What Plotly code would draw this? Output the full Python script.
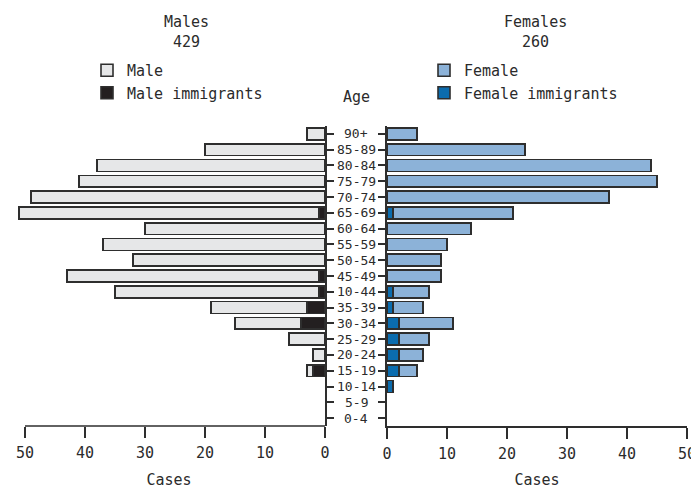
import plotly.graph_objects as go

ages = ["90+", "85-89", "80-84", "75-79", "70-74", "65-69", "60-64", "55-59",
        "50-54", "45-49", "10-44", "35-39", "30-34", "25-29", "20-24", "15-19",
        "10-14", "5-9", "0-4"]
male = [3, 20, 38, 41, 49, 50, 30, 37, 32, 42, 34, 16, 11, 6, 2, 1, 0, 0, 0]
male_immigrants = [0, 0, 0, 0, 0, 1, 0, 0, 0, 1, 1, 3, 4, 0, 0, 2, 0, 0, 0]
female = [5, 23, 44, 45, 37, 20, 14, 10, 9, 9, 6, 5, 9, 5, 4, 3, 0, 0, 0]
female_immigrants = [0, 0, 0, 0, 0, 1, 0, 0, 0, 0, 1, 1, 2, 2, 2, 2, 1, 0, 0]
x_ticks = [0, 10, 20, 30, 40, 50]
males_total = "429"
females_total = "260"

FONT = "DejaVu Sans Mono"
TXT = "#2b2b2b"
EDGE = "#2e2e2e"
C_MALE = "#e6e7e8"
C_MALE_IMM = "#231f20"
C_FEM = "#8cb2d8"
C_FEM_IMM = "#0b6cae"


def nz(vals):
    return [v if v else None for v in vals]


fig = go.Figure()
line = dict(color=EDGE, width=1.6)
fig.add_trace(go.Bar(y=ages, x=nz(male_immigrants), orientation="h", name="Male immigrants",
                     marker=dict(color=C_MALE_IMM, line=line), xaxis="x", yaxis="y",
                     legend="legend", legendrank=2))
fig.add_trace(go.Bar(y=ages, x=nz(male), orientation="h", name="Male",
                     marker=dict(color=C_MALE, line=line), xaxis="x", yaxis="y",
                     legend="legend", legendrank=1))
fig.add_trace(go.Bar(y=ages, x=nz(female_immigrants), orientation="h", name="Female immigrants",
                     marker=dict(color=C_FEM_IMM, line=line), xaxis="x2", yaxis="y2",
                     legend="legend2", legendrank=2))
fig.add_trace(go.Bar(y=ages, x=nz(female), orientation="h", name="Female",
                     marker=dict(color=C_FEM, line=line), xaxis="x2", yaxis="y2",
                     legend="legend2", legendrank=1))

# page body has an 8px margin: the figure is drawn 8px right/down of the window corner
OFF = 8
W, H = 699 - OFF, 489 - OFF
L, R, T, B = 13 - OFF, W - (687 - OFF), 126 - OFF, H - (426 - OFF)
pw = W - L - R
ph = H - T - B


def px(xp):
    return (xp - OFF - L) / pw


def py(yp):
    return (H - B - (yp - OFF)) / ph


axis_font = dict(family=FONT, size=15, color=TXT)
yrange = [len(ages) - 0.5, -0.5]

fig.update_layout(
    width=W, height=H,
    margin=dict(l=L, r=R, t=T, b=B, autoexpand=False),
    paper_bgcolor="white", plot_bgcolor="white",
    barmode="stack", bargap=0.25,
    font=dict(family=FONT, size=15, color=TXT),
    xaxis=dict(domain=[0, px(325)], range=[52, 0], tickvals=x_ticks, ticks="outside",
               ticklen=11, tickwidth=1.5, tickcolor=EDGE, showline=False, showgrid=False,
               zeroline=False, tickfont=axis_font, anchor="y", automargin=False,
               ticklabelstandoff=2,
               title=dict(text="Cases", font=axis_font, standoff=17)),
    xaxis2=dict(domain=[px(387), px(687)], range=[0, 50], tickvals=x_ticks, ticks="outside",
                ticklen=11, tickwidth=1.5, tickcolor=EDGE, showline=True, linecolor=EDGE,
                linewidth=1.5, showgrid=False, zeroline=False, tickfont=axis_font, anchor="y2",
                automargin=False, ticklabelstandoff=2,
                title=dict(text="Cases", font=axis_font, standoff=17)),
    yaxis=dict(domain=[0, 1], range=yrange, type="category", side="right", anchor="x",
               showticklabels=False, ticks="outside", ticklen=7, tickwidth=1.5,
               tickcolor=EDGE, showline=True, linecolor=EDGE, linewidth=1.5,
               showgrid=False, zeroline=False, automargin=False),
    yaxis2=dict(domain=[0, 1], range=yrange, type="category", side="left", anchor="x2",
                showticklabels=False, ticks="outside", ticklen=7, tickwidth=1.5,
                tickcolor=EDGE, showline=True, linecolor=EDGE, linewidth=1.5,
                showgrid=False, zeroline=False, automargin=False),
    legend=dict(x=px(87), y=py(54), xanchor="left", yanchor="top", bgcolor="rgba(0,0,0,0)",
                font=dict(family=FONT, size=15, color=TXT), tracegroupgap=0, itemwidth=30,
                traceorder="normal"),
    legend2=dict(x=px(424), y=py(54), xanchor="left", yanchor="top", bgcolor="rgba(0,0,0,0)",
                 font=dict(family=FONT, size=15, color=TXT), tracegroupgap=0, itemwidth=30,
                 traceorder="normal"),
)

# bottom axis line for the left panel, ending at 50
fig.add_shape(type="line", xref="x", yref="paper", x0=x_ticks[-1], x1=x_ticks[0], y0=0, y1=0,
              line=dict(color=EDGE, width=1.5))

# age labels between the panels
for a in ages:
    fig.add_annotation(x=px(356), xref="paper", y=a, yref="y", text=a, showarrow=False,
                       xanchor="center", yanchor="middle",
                       font=dict(family=FONT, size=13, color=TXT))

for text, x, y in [("Males", 186, 22), (males_total, 186, 42),
                   ("Females", 535, 22), (females_total, 535, 42), ("Age", 356, 97)]:
    fig.add_annotation(x=px(x), y=py(y), xref="paper", yref="paper", text=text,
                       showarrow=False, xanchor="center", yanchor="middle",
                       font=dict(family=FONT, size=15, color=TXT))

fig.write_html("out.html")
